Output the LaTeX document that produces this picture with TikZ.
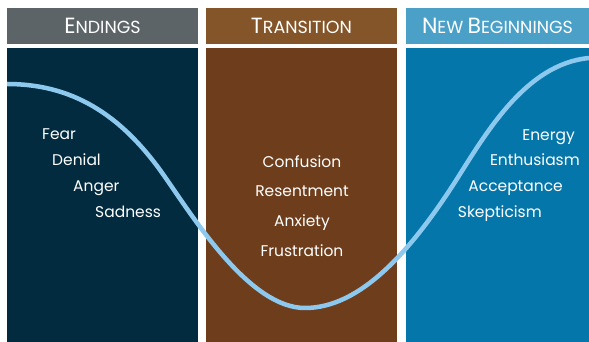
\documentclass[tikz,border=0pt]{standalone}
\usepackage{fontspec}
\setmainfont{Poppins}
\usepackage{tikz}
\usetikzlibrary{positioning}

\definecolor{headgray}{HTML}{5D6468}
\definecolor{headbrown}{HTML}{85552A}
\definecolor{headblue}{HTML}{4AA0C6}
\definecolor{endnavy}{HTML}{022B3F}
\definecolor{transbrown}{HTML}{6E3D1B}
\definecolor{newblue}{HTML}{0576A9}
\definecolor{curveblue}{HTML}{8DC9EE}

% first letter big, rest as small capitals
\newcommand{\headword}[2]{{\fontsize{22}{22}\selectfont #1}{\fontsize{17.5}{17.5}\selectfont #2}}

\tikzset{
    head/.style={
           rectangle,
           minimum height=36pt,
           inner sep=0pt,
           text=white,
           text centered,
           },
    panel/.style={
           rectangle,
           minimum height=294pt,
           inner sep=0pt,
           },
    word/.style={
           text=white,
           inner sep=0pt,
           font=\fontsize{15.5}{15.5}\selectfont,
           },
}

\begin{document}
\begin{tikzpicture}[x=1pt,y=1pt]

 \useasboundingbox (0,0) rectangle (589,342);

 % HEADERS
 \node[head,
 fill=headgray,
 minimum width=191pt] (ENDHEAD) at (102.5,316)
 {\headword{E}{NDINGS}};

 \node[head,
 fill=headbrown,
 minimum width=191pt,
 right of=ENDHEAD,
 node distance=199pt] (TRANSHEAD)
 {\headword{T}{RANSITION}};

 \node[head,
 fill=headblue,
 minimum width=183pt,
 right of=TRANSHEAD,
 node distance=196pt] (NEWHEAD)
 {\headword{N}{EW}\hspace{4pt}\headword{B}{EGINNINGS}};

 % PANELS
 \node[panel,
 fill=endnavy,
 minimum width=191pt,
 below of=ENDHEAD,
 node distance=169pt] (ENDPANEL) {};

 \node[panel,
 fill=transbrown,
 minimum width=191pt,
 below of=TRANSHEAD,
 node distance=169pt] (TRANSPANEL) {};

 \node[panel,
 fill=newblue,
 minimum width=183pt,
 below of=NEWHEAD,
 node distance=169pt] (NEWPANEL) {};

 % the curve
 \draw[curveblue, line width=4.5pt]
  (7,258) .. controls (70,258) and (120,230) .. (165,165)
          .. controls (195,122) and (250,34) .. (305,34)
          .. controls (360,34) and (410,90) .. (455,160)
          .. controls (485,207) and (525,278) .. (589,284);

 % ENDINGS words
 \node[word, anchor=base west] (FEAR) at (42,202) {Fear};
 \node[word, anchor=base west] (DENIAL) at (52,176) {Denial};
 \node[word, anchor=base west] (ANGER) at (73,150) {Anger};
 \node[word, anchor=base west] (SADNESS) at (95,124) {Sadness};

 % TRANSITION words
 \node[word, anchor=base] (CONFUSION) at (302,174) {Confusion};
 \node[word, anchor=base] (RESENTMENT) at (302,145) {Resentment};
 \node[word, anchor=base] (ANXIETY) at (302,115) {Anxiety};
 \node[word, anchor=base] (FRUSTRATION) at (302,85) {Frustration};

 % NEW BEGINNINGS words
 \node[word, anchor=base east] (ENERGY) at (575,201) {Energy};
 \node[word, anchor=base east] (ENTHUSIASM) at (580,176) {Enthusiasm};
 \node[word, anchor=base east] (ACCEPTANCE) at (563,150) {Acceptance};
 \node[word, anchor=base east] (SKEPTICISM) at (542,124) {Skepticism};

\end{tikzpicture}
\end{document}
